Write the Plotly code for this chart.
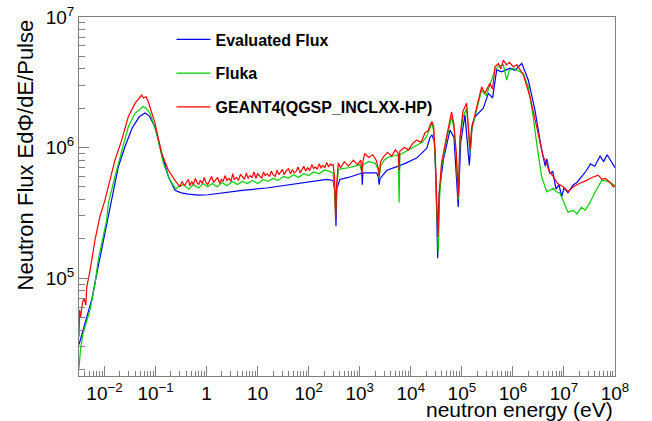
import plotly.graph_objects as go

# ---------------- data ----------------
eval_E = [0.00316, 0.00415, 0.0056, 0.0075, 0.0102, 0.0138, 0.0186, 0.025, 0.035, 0.048,
          0.062, 0.075, 0.0975, 0.132, 0.178, 0.24, 0.32, 0.44, 0.7, 1.07,
          2, 5, 15, 50, 120, 225, 300, 330, 342, 355,
          407, 600, 1000, 1100, 1120, 1150, 1500, 2140, 2300, 2400,
          2500, 3400, 5700, 5900, 6100, 8000, 13000, 20600, 23800, 26000,
          29000, 31000, 33600, 36000, 43300, 58500, 70000, 85000, 95000, 115000,
          140000, 160000, 181000, 263000, 330000, 400000, 481000, 600000, 877000, 1.1e6,
          1.49e6, 2.0e6, 2.7e6, 3.65e6, 4.3e6, 4.6e6, 5.3e6, 6.0e6, 7.0e6, 8.0e6,
          9.0e6, 1.0e7, 1.2e7, 1.53e7, 1.8e7, 2.2e7, 2.79e7, 3.3e7, 4.0e7, 5.1e7,
          6.0e7, 7.0e7, 8.3e7, 1e8]
eval_F = [3.1e4, 4.5e4, 6.8e4, 1.22e5, 2.2e5, 3.96e5, 7.1e5, 1.01e6, 1.42e6, 1.72e6,
          1.84e6, 1.75e6, 1.44e6, 9.0e5, 6.0e5, 4.7e5, 4.5e5, 4.4e5, 4.32e5, 4.35e5,
          4.5e5, 4.7e5, 4.9e5, 5.25e5, 5.5e5, 5.7e5, 5.6e5, 4.5e5, 2.5e5, 4.8e5,
          5.7e5, 5.9e5, 6.3e5, 6.4e5, 5.2e5, 6.4e5, 6.4e5, 6.4e5, 6.0e5, 5.2e5,
          5.8e5, 6.7e5, 7.2e5, 6.5e5, 7.3e5, 7.6e5, 8.3e5, 9.9e5, 1.2e6, 1.25e6,
          1.1e6, 6.0e5, 1.42e5, 4.5e5, 8.0e5, 1.36e6, 1.2e6, 3.5e5, 1.1e6, 1.77e6,
          7.3e5, 1.5e6, 1.72e6, 2.0e6, 2.6e6, 2.4e6, 3.93e6, 3.8e6, 4.05e6, 3.9e6,
          4.42e6, 3.29e6, 1.94e6, 9.6e5, 7.2e5, 8.2e5, 6.3e5, 6.6e5, 4.8e5, 5.2e5,
          4.2e5, 4.9e5, 4.5e5, 5.2e5, 5.4e5, 6.0e5, 6.7e5, 7.5e5, 7.2e5, 8.6e5,
          7.8e5, 8.8e5, 7.9e5, 7.0e5]

fluka_E = [0.00316, 0.0034, 0.0038, 0.0045, 0.0052, 0.0065, 0.0075, 0.011, 0.0119, 0.016,
           0.0217, 0.0292, 0.0395, 0.0575, 0.065, 0.0778, 0.105, 0.142, 0.192, 0.25,
           0.28, 0.35, 0.45, 0.55, 0.7, 0.85, 1.05, 1.3, 1.6, 2,
           2.5, 3.2, 4, 5, 6.3, 8, 10, 13, 16, 20,
           25, 32, 40, 50, 63, 80, 100, 125, 160, 200,
           250, 300, 320, 336, 350, 380, 450, 600, 800, 1000,
           1100, 1150, 1500, 2000, 2300, 2400, 2550, 3000, 3500, 4500,
           5700, 5900, 6100, 7500, 9000, 11000, 14000, 17000, 20000, 24000,
           26000, 28000, 30000, 32000, 34500, 36500, 40000, 50000, 63000, 70000,
           78000, 85000, 92000, 105000, 124000, 135000, 144000, 155000, 181000, 210000,
           244000, 300000, 355000, 446000, 520000, 650000, 754000, 850000, 1.02e6, 1.6e6,
           2.0e6, 2.5e6, 2.92e6, 3.65e6, 4.6e6, 6.2e6, 7.0e6, 8.35e6, 1.0e7, 1.2e7,
           1.53e7, 1.8e7, 2.2e7, 2.6e7, 3.24e7, 4.0e7, 5.5e7, 7.4e7, 9.3e7, 1e8]
fluka_F = [2.03e4, 2.9e4, 3.77e4, 4.8e4, 5.7e4, 9.0e4, 1.37e5, 2.78e5, 3.73e5, 6.0e5,
           9.6e5, 1.44e6, 1.83e6, 2.06e6, 2.0e6, 1.83e6, 1.28e6, 7.6e5, 5.6e5, 4.8e5,
           5.0e5, 5.2e5, 4.8e5, 5.2e5, 4.9e5, 5.3e5, 5.0e5, 5.3e5, 5.0e5, 5.4e5,
           5.1e5, 5.5e5, 5.2e5, 5.5e5, 5.3e5, 5.6e5, 5.3e5, 5.7e5, 5.5e5, 5.8e5,
           5.6e5, 6.0e5, 5.8e5, 6.2e5, 5.9e5, 6.3e5, 6.1e5, 6.5e5, 6.3e5, 6.7e5,
           6.6e5, 6.4e5, 4.8e5, 3.0e5, 4.6e5, 6.8e5, 6.9e5, 7.0e5, 7.2e5, 7.4e5,
           6.5e5, 7.4e5, 7.8e5, 7.6e5, 6.8e5, 5.8e5, 7.2e5, 8.0e5, 8.4e5, 8.6e5,
           8.8e5, 3.8e5, 8.8e5, 9.2e5, 9.6e5, 1.0e6, 1.05e6, 1.1e6, 1.2e6, 1.4e6,
           1.53e6, 1.35e6, 8.0e5, 3.5e5, 1.6e5, 4.0e5, 7.1e5, 1.15e6, 1.72e6, 1.4e6,
           8.5e5, 4.0e5, 1.15e6, 1.7e6, 2.0e6, 1.3e6, 9.0e5, 1.35e6, 1.7e6, 2.1e6,
           2.75e6, 2.5e6, 3.0e6, 3.93e6, 4.2e6, 4.3e6, 3.29e6, 3.9e6, 4.05e6, 3.7e6,
           2.92e6, 1.72e6, 1.08e6, 6.0e5, 4.58e5, 4.87e5, 4.6e5, 4.46e5, 3.8e5, 3.2e5,
           3.3e5, 3.1e5, 3.5e5, 3.3e5, 3.8e5, 4.5e5, 5.6e5, 5.5e5, 5.2e5, 5.1e5]

geant_E = [0.00316, 0.00325, 0.0034, 0.0037, 0.0040, 0.0043, 0.0045, 0.0051, 0.0065, 0.0081,
           0.0102, 0.0119, 0.016, 0.0217, 0.0292, 0.0395, 0.0535, 0.058, 0.065, 0.072,
           0.0975, 0.132, 0.178, 0.24, 0.3, 0.33, 0.37, 0.4, 0.44, 0.47, 0.51, 0.55, 0.6, 0.65,
           0.7, 0.75, 0.82, 0.9, 0.97, 1.05, 1.15, 1.25, 1.37, 1.5, 1.65, 1.8, 1.95, 2.1, 2.3, 2.5,
           2.75, 3, 3.25, 3.5, 3.85, 4.2, 4.6, 5, 5.5, 6, 6.5, 7, 7.7, 8.5, 9.2, 10,
           11, 12, 13, 14, 15.5, 17, 18.5, 20, 22, 24, 26, 28, 30.5, 33, 36, 40,
           44, 48, 52, 57, 62, 68, 74, 80, 87, 95, 105, 115, 125, 135, 147, 160,
           175, 190, 207, 225, 245, 265, 285, 300, 320, 336, 350, 380,
           420, 500, 600, 750, 900, 1050, 1100, 1150, 1250, 1500,
           1800, 2100, 2300, 2400, 2550, 3000, 3500, 4200, 5000, 5700,
           5900, 6100, 7500, 9000, 11000, 13000, 16000, 19000, 22000, 24000,
           26000, 28000, 30000, 32000, 34000, 36000, 40000, 50000, 63000, 70000,
           78000, 85000, 92000, 105000, 124000, 135000, 144000, 155000, 181000, 210000,
           244000, 280000, 355000, 400000, 446000, 520000, 580000, 650000, 750000, 850000,
           1.02e6, 1.2e6, 1.6e6, 2.16e6, 2.92e6, 3.94e6, 4.6e6, 5.2e6, 6.2e6, 7.5e6,
           9.7e6, 1.2e7, 1.53e7, 2.0e7, 2.79e7, 3.5e7, 4.7e7, 5.5e7, 6.5e7, 8e7,
           9.3e7, 1e8]
geant_F = [3.55e4, 5.7e4, 5.0e4, 6.5e4, 7.0e4, 6.2e4, 8.6e4, 1.09e5, 1.95e5, 2.95e5,
           3.96e5, 5.0e5, 8.0e5, 1.14e6, 1.72e6, 2.18e6, 2.52e6, 2.4e6, 2.45e6, 2.24e6,
           1.53e6, 9.0e5, 6.7e5, 5.6e5, 5.0e5, 5.5e5, 5.1e5, 5.4e5, 5.7e5, 5.1e5, 5.5e5, 5.2e5, 5.8e5, 5.4e5,
           5.2e5, 5.6e5, 5.3e5, 5.9e5, 5.4e5, 5.2e5, 5.7e5, 6.0e5, 5.4e5, 5.6e5, 5.9e5, 5.3e5, 5.7e5, 5.5e5, 6.1e5, 5.6e5,
           5.8e5, 5.5e5, 6.3e5, 5.7e5, 5.9e5, 5.6e5, 6.2e5, 6.0e5, 5.7e5, 6.4e5, 5.8e5, 6.1e5, 5.9e5, 6.5e5, 5.8e5, 6.3e5,
           6.0e5, 5.8e5, 6.5e5, 6.1e5, 6.3e5, 6.0e5, 6.6e5, 6.2e5, 6.0e5, 6.7e5, 6.2e5, 6.5e5, 6.8e5, 6.2e5, 6.6e5, 6.9e5,
           6.3e5, 6.8e5, 6.4e5, 6.6e5, 7.1e5, 6.4e5, 6.8e5, 7.2e5, 6.6e5, 7.0e5, 6.7e5, 7.4e5, 6.9e5, 7.1e5, 6.8e5, 7.5e5,
           7.0e5, 7.3e5, 7.0e5, 7.7e5, 7.1e5, 7.5e5, 7.3e5, 7.4e5, 6.0e5, 2.8e5, 5.0e5, 7.6e5,
           7.0e5, 7.8e5, 7.2e5, 8.0e5, 7.4e5, 8.0e5, 6.2e5, 7.8e5, 9.0e5, 8.4e5,
           8.8e5, 8.0e5, 7.0e5, 6.0e5, 7.8e5, 8.6e5, 9.2e5, 8.6e5, 9.6e5, 9.0e5,
           6.7e5, 9.4e5, 1.0e6, 9.6e5, 1.08e6, 1.14e6, 1.1e6, 1.3e6, 1.35e6, 1.5e6,
           1.58e6, 1.45e6, 9.0e5, 3.5e5, 2.07e5, 4.5e5, 7.6e5, 1.2e6, 1.88e6, 1.5e6,
           9.0e5, 4.2e5, 1.2e6, 1.9e6, 2.18e6, 1.4e6, 9.6e5, 1.4e6, 1.77e6, 2.3e6,
           2.92e6, 2.6e6, 3.1e6, 2.8e6, 4.16e6, 4.4e6, 4.0e6, 4.68e6, 4.3e6, 4.5e6,
           4.16e6, 4.3e6, 3.6e6, 2.45e6, 1.44e6, 8.5e5, 7.5e5, 6.5e5, 6.0e5, 5.3e5,
           5.0e5, 4.6e5, 5.0e5, 5.3e5, 5.6e5, 5.9e5, 6.15e5, 5.7e5, 5.8e5, 5.4e5,
           5.0e5, 5.1e5]

series_names = ["Evaluated Flux", "Fluka", "GEANT4(QGSP_INCLXX-HP)"]
series_colors = ["#0000ff", "#00d000", "#ff0000"]

x_tickvals = [1e-2, 1e-1, 1, 10, 1e2, 1e3, 1e4, 1e5, 1e6, 1e7, 1e8]
x_ticktext = ["10<sup>\u22122</sup>", "10<sup>\u22121</sup>", "1", "10", "10<sup>2</sup>",
              "10<sup>3</sup>", "10<sup>4</sup>", "10<sup>5</sup>", "10<sup>6</sup>",
              "10<sup>7</sup>", "10<sup>8</sup>"]
y_tickvals = [1e5, 1e6, 1e7]
y_ticktext = ["10<sup>5</sup>", "10<sup>6</sup>", "10<sup>7</sup>"]

x_title = "neutron energy (eV)"
y_title = "Neutron Flux Ed\u03a6/dE/Pulse"

# ---------------- figure ----------------
FONT = "Liberation Sans, Arial, Helvetica, sans-serif"
fig = go.Figure()
for E, F, name, col in [(eval_E, eval_F, series_names[0], series_colors[0]),
                        (fluka_E, fluka_F, series_names[1], series_colors[1]),
                        (geant_E, geant_F, series_names[2], series_colors[2])]:
    fig.add_trace(go.Scatter(x=E, y=F, mode="lines", name=name, legendgroup=name,
                             line=dict(color=col, width=1.2)))

axis_common = dict(showgrid=False, zeroline=False, showline=True, linecolor="#808080",
                   linewidth=1, mirror=True, ticks="inside", tickcolor="#808080",
                   ticklen=10, tickfont=dict(family=FONT, size=19, color="black"),
                   tickmode="array", automargin=False)

fig.update_xaxes(type="log", range=[-2.5, 8], tickvals=x_tickvals, ticktext=x_ticktext,
                 minor=dict(ticks="inside", ticklen=5, tickcolor="#808080", dtick="D1"),
                 **axis_common)
fig.update_yaxes(type="log", range=[4.25, 7], tickvals=y_tickvals, ticktext=y_ticktext,
                 minor=dict(ticks="inside", ticklen=6, tickcolor="#808080", dtick="D1"),
                 **axis_common)

fig.update_layout(
    width=652, height=421,
    margin=dict(l=79, r=37, t=17, b=45, autoexpand=False),
    paper_bgcolor="white", plot_bgcolor="white",
    font=dict(family=FONT, color="black"),
    showlegend=True,
    legend=dict(x=0.1725, y=0.985, xanchor="left", yanchor="top",
                bgcolor="rgba(0,0,0,0)", borderwidth=0,
                font=dict(family=FONT, size=16, color="black", weight="bold"),
                tracegroupgap=10, itemwidth=34),
    annotations=[
        dict(text=x_title, xref="paper", yref="paper", x=1.0, y=-0.093,
             xanchor="right", yanchor="middle", showarrow=False,
             font=dict(family=FONT, size=21, color="black")),
        dict(text=y_title, xref="paper", yref="paper", x=-0.099, y=1.0,
             xanchor="center", yanchor="top", textangle=-90, showarrow=False,
             font=dict(family=FONT, size=22, color="black")),
    ],
)

fig.write_html("out.html", config={"displayModeBar": False})
with open("out.html", encoding="utf-8") as fh:
    html = fh.read()
html = html.replace("<head>", "<head><style>html,body{margin:0;padding:0;overflow:hidden;}</style>", 1)
with open("out.html", "w", encoding="utf-8") as fh:
    fh.write(html)
